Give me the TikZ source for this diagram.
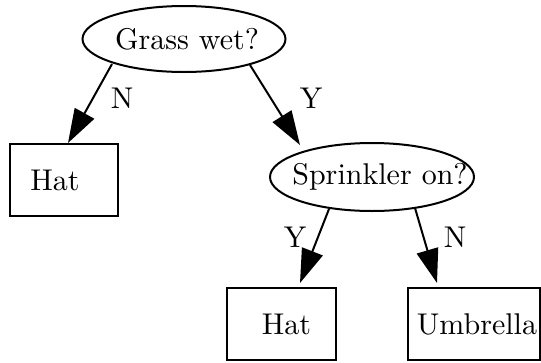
\documentclass[tikz,border=0pt]{standalone}
\usepackage{graphicx}
\usetikzlibrary{shapes.geometric,arrows.meta,calc}
% text set at 10pt design size, then enlarged
\newcommand{\bigtxt}[1]{\scalebox{3.0}{\fontsize{10}{12}\selectfont #1}}
% label of zero width whose centre sits #1 to the right of the node centre
\newcommand{\offtxt}[2]{\makebox[0pt]{\kern#1\kern#1\bigtxt{#2}}}
\begin{document}
\begin{tikzpicture}[x=1pt,y=-1pt,
  every node/.style={inner sep=0pt},
  question/.style={draw, ellipse, line width=2pt},
  leaf/.style={draw, rectangle, line width=2pt, minimum height=72pt},
  branch/.style={line width=2pt, -{Triangle[length=34pt,width=22pt]}},
  tag/.style={}]
\useasboundingbox (0,0) rectangle (541,362);

% decision nodes (ellipse size fixed, label allowed to fill it)
\node[question, minimum width=203pt, minimum height=66pt] (g) at (184,39) {\offtxt{3pt}{Grass wet?}};
\node[question, minimum width=204pt, minimum height=68pt] (s) at (372,177) {\raisebox{3pt}{\offtxt{8pt}{Sprinkler on?}}};

% outcomes
\node[leaf, minimum width=108pt] (h1) at (64,180) {\offtxt{-9pt}{Hat}};
\node[leaf, minimum width=109pt] (h2) at (281.5,324) {\offtxt{5pt}{Hat}};
\node[leaf, minimum width=132pt] (u) at (474,324) {\offtxt{3pt}{Umbrella}};

% branches
\draw[branch] ($(g.center)+(-72,25)$) -- ($(h1.north)+(4,0)$);
\draw[branch] ($(g.center)+(66,26)$) -- ($(s.center)+(-72,-32)$);
\draw[branch] ($(s.center)+(-43,32)$) -- ($(h2.north)+(18.5,-4)$);
\draw[branch] ($(s.center)+(43,31)$) -- ($(u.north)+(-37,-4)$);

% branch labels
\node[tag] (l1) at (122,98) {\bigtxt{N}};
\node[tag] (l2) at (311,98) {\bigtxt{Y}};
\node[tag] (l3) at (295,237) {\bigtxt{Y}};
\node[tag] (l4) at (455,237) {\bigtxt{N}};
\end{tikzpicture}
\end{document}
